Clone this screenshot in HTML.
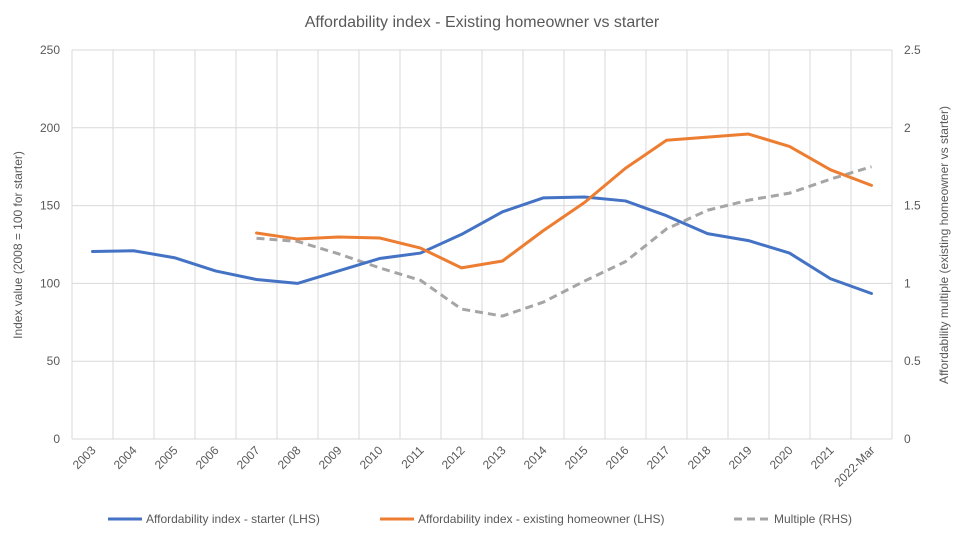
<!DOCTYPE html>
<html><head><meta charset="utf-8"><style>
body{margin:0;background:#fff;font-family:"Liberation Sans",sans-serif;}
svg text{font-family:"Liberation Sans",sans-serif;fill:#595959;}
</style></head><body>
<svg id="chart" width="964" height="539" xmlns="http://www.w3.org/2000/svg">
<text x="482" y="27" text-anchor="middle" font-size="16">Affordability index - Existing homeowner vs starter</text>
<g id="grid"></g><g id="axes"></g><g id="series"></g>
<text transform="translate(22,245) rotate(-90)" text-anchor="middle" font-size="12">Index value (2008 = 100 for starter)</text>
<text transform="translate(948,245) rotate(-90)" text-anchor="middle" font-size="12">Affordability multiple (existing homeowner vs starter)</text>
<g>
<line x1="108" y1="519" x2="142" y2="519" stroke="#4472C4" stroke-width="3"/>
<text x="146" y="523" font-size="12">Affordability index - starter (LHS)</text>
<line x1="380" y1="519" x2="414" y2="519" stroke="#ED7D31" stroke-width="3"/>
<text x="418" y="523" font-size="12">Affordability index - existing homeowner (LHS)</text>
<line x1="734" y1="519" x2="768" y2="519" stroke="#A5A5A5" stroke-width="3" stroke-dasharray="8,5"/>
<text x="774" y="523" font-size="12">Multiple (RHS)</text>
</g>
</svg>
<script>
const categories=["2003","2004","2005","2006","2007","2008","2009","2010","2011","2012","2013","2014","2015","2016","2017","2018","2019","2020","2021","2022-Mar"];
const starter=[120.5,121,116.5,108,102.5,100,108,116,119.5,131.5,146,155,155.5,153,143.5,132,127.5,119.5,103,93.5];
const homeowner=[null,null,null,null,132.4,128.5,129.8,129.2,122.7,110,114.4,134,152,174,192,194,196,188,173,163];
const multiple=[null,null,null,null,1.29,1.27,1.19,1.10,1.02,0.835,0.79,0.88,1.015,1.14,1.35,1.47,1.535,1.58,1.67,1.75];
const leftTicks=[0,50,100,150,200,250];
const rightTicks=["0","0.5","1","1.5","2","2.5"];
const X0=72,X1=892,Y0=439,Y1=50;
const cw=(X1-X0)/categories.length;
const xs=i=>X0+cw*(i+0.5);
const yL=v=>Y0-(v/250)*(Y0-Y1);
const yR=v=>Y0-(v/2.5)*(Y0-Y1);
const NS="http://www.w3.org/2000/svg";
function mk(t,a,p){const e=document.createElementNS(NS,t);for(const k in a)e.setAttribute(k,a[k]);p.appendChild(e);return e;}
const grid=document.getElementById('grid'),axes=document.getElementById('axes'),ser=document.getElementById('series');
leftTicks.forEach((v,i)=>{
 const l=mk('line',{x1:X0,x2:X1,y1:yL(v),y2:yL(v),stroke:'#D9D9D9','stroke-width':1},grid);
 
 
 const t=mk('text',{x:X0-12,y:yL(v)+4,'text-anchor':'end','font-size':12},axes);t.textContent=v;
 
 
 const r=mk('text',{x:X1+12,y:yL(v)+4,'font-size':12},axes);r.textContent=rightTicks[i];
 
 
});
for(let i=0;i<=categories.length;i++){
 const l=mk('line',{x1:X0+cw*i,x2:X0+cw*i,y1:Y1,y2:Y0,stroke:'#D9D9D9','stroke-width':1},grid);
 
 
}
categories.forEach((c,i)=>{
 const x=xs(i)+4,y=Y0+12;
 const t=mk('text',{x:x,y:y,'text-anchor':'end','font-size':12,transform:`rotate(-45 ${x} ${y})`},axes);t.textContent=c;
 
 
});
function path(arr,yf,color,dash,name){
 let d='';arr.forEach((v,i)=>{if(v==null)return;d+=(d?'L':'M')+xs(i)+','+yf(v);});
 const p=mk('path',{d:d,fill:'none',stroke:color,'stroke-width':3,'stroke-linejoin':'round','stroke-linecap':dash?'butt':'round'},ser);
 if(dash)p.setAttribute('stroke-dasharray',dash);
 
 
}
path(multiple,yR,'#A5A5A5','8,5','line-multiple');
path(starter,yL,'#4472C4',null,'line-starter');
path(homeowner,yL,'#ED7D31',null,'line-homeowner');
</script>
</body></html>
